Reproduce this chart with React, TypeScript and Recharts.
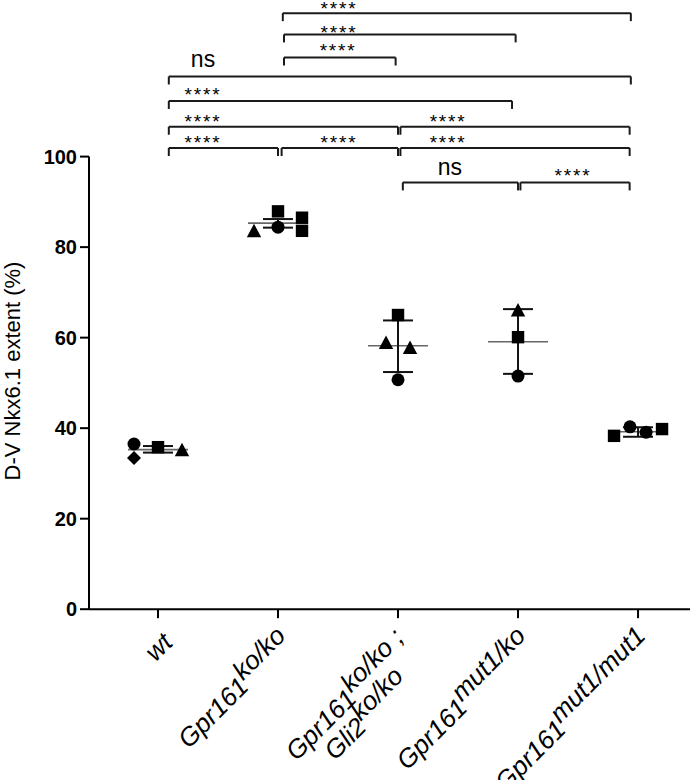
import React from 'react';
import { ComposedChart, XAxis, YAxis, Scatter, ReferenceLine, ReferenceDot } from 'recharts';

const FONT = "'Liberation Sans', Arial, Helvetica, sans-serif";

// categories (x positions 0..4)
const categories = [0, 1, 2, 3, 4];
const xTickLines: string[][][] = [
  [['wt', '']],
  [['Gpr161', 'ko/ko']],
  [['Gpr161', 'ko/ko ;'], ['Gli2', 'ko/ko']],
  [['Gpr161', 'mut1/ko']],
  [['Gpr161', 'mut1/mut1']],
];
const yTicks = [0, 20, 40, 60, 80, 100];

// group summary (mean and error bar ends)
const groupMeans = [35.25, 85.3, 58.2, 59.1, 39.2];
const errUpper = [36.05, 86.2, 63.8, 66.3, 40.2];
const errLower = [34.6, 84.3, 52.4, 52.0, 38.1];

// individual animals: group, horizontal jitter, value
const circlePts = [
  { g: 0, dx: -0.2, v: 36.5 },
  { g: 1, dx: 0, v: 84.4 },
  { g: 2, dx: 0, v: 50.7 },
  { g: 3, dx: 0, v: 51.5 },
  { g: 4, dx: -0.067, v: 40.3 },
  { g: 4, dx: 0.067, v: 39.1 },
];
const squarePts = [
  { g: 0, dx: 0, v: 35.8 },
  { g: 1, dx: 0, v: 87.9 },
  { g: 1, dx: 0.2, v: 86.5 },
  { g: 1, dx: 0.2, v: 83.6 },
  { g: 2, dx: 0, v: 65.0 },
  { g: 3, dx: 0, v: 60.1 },
  { g: 4, dx: -0.2, v: 38.3 },
  { g: 4, dx: 0.2, v: 39.8 },
];
const trianglePts = [
  { g: 0, dx: 0.2, v: 35.1 },
  { g: 1, dx: -0.2, v: 83.5 },
  { g: 2, dx: -0.1, v: 58.8 },
  { g: 2, dx: 0.1, v: 57.7 },
  { g: 3, dx: 0, v: 66.0 },
];
const diamondPts = [{ g: 0, dx: -0.2, v: 33.4 }];

// significance brackets
const brackets = [
  { x1: 1.04, x2: 3.94, y: 131.7 },
  { x1: 1.05, x2: 2.98, y: 127.0 },
  { x1: 1.05, x2: 1.98, y: 121.9 },
  { x1: 0.09, x2: 3.94, y: 117.7 },
  { x1: 0.09, x2: 2.95, y: 112.3 },
  { x1: 0.09, x2: 2.0, y: 106.6 },
  { x1: 2.02, x2: 3.93, y: 106.6 },
  { x1: 0.09, x2: 1.0, y: 101.9 },
  { x1: 1.03, x2: 2.0, y: 101.9 },
  { x1: 2.02, x2: 3.93, y: 101.9 },
  { x1: 2.04, x2: 3.0, y: 94.3 },
  { x1: 3.02, x2: 3.93, y: 94.3 },
];
const sigLabels = [
  { x: 1.508, y: 133.7, t: '****' },
  { x: 1.508, y: 128.3, t: '****' },
  { x: 1.5, y: 124.3, t: '****' },
  { x: 0.375, y: 121.1, t: 'ns' },
  { x: 0.375, y: 114.5, t: '****' },
  { x: 0.375, y: 108.6, t: '****' },
  { x: 2.417, y: 108.6, t: '****' },
  { x: 0.375, y: 103.9, t: '****' },
  { x: 1.508, y: 103.9, t: '****' },
  { x: 2.417, y: 103.9, t: '****' },
  { x: 2.433, y: 97.3, t: 'ns' },
  { x: 3.458, y: 96.7, t: '****' },
];

const X_DOMAIN: [number, number] = [-0.575, 4.433];
const Y_DOMAIN: [number, number] = [0, 134.6];
const BRACKET_DROP = 1.77;

const toXY = (arr: { g: number; dx: number; v: number }[]) => arr.map((p) => ({ x: p.g + p.dx, y: p.v }));

const CircleShape = (p: any) => <circle cx={p.cx} cy={p.cy} r={6.5} fill="#000" />;
const SquareShape = (p: any) => <rect x={p.cx - 6.2} y={p.cy - 6.2} width={12.4} height={12.4} fill="#000" />;
const TriangleShape = (p: any) => (
  <path d={`M${p.cx},${p.cy - 7.5} L${p.cx + 7.2},${p.cy + 6} L${p.cx - 7.2},${p.cy + 6} Z`} fill="#000" />
);
const DiamondShape = (p: any) => (
  <path d={`M${p.cx},${p.cy - 7} L${p.cx + 7},${p.cy} L${p.cx},${p.cy + 7} L${p.cx - 7},${p.cy} Z`} fill="#000" />
);

const XFS = 26;
const XTick = (props: any) => {
  const { x, y, payload } = props;
  const lines = xTickLines[payload.value] || [];
  const multi = lines.length > 1;
  const approxW = XFS * 6.5;
  return (
    <g transform={`translate(${x + 16},${y + 25}) rotate(-45)`}>
      {lines.map((ln, i) => (
        <text
          key={i}
          x={multi ? -approxW / 2 : 0}
          y={i * 27}
          textAnchor={multi ? 'middle' : 'end'}
          fontStyle="italic"
          fontSize={XFS}
          fontFamily={FONT}
          fill="#000"
        >
          {ln[0]}
          {ln[1] ? <tspan dy="-0.38em">{ln[1]}</tspan> : null}
        </text>
      ))}
    </g>
  );
};

const SigText = (t: string) => (p: any) =>
  t === 'ns' ? (
    <text x={p.cx} y={p.cy + 6} textAnchor="middle" fontSize={23} fontFamily={FONT} fill="#000">
      {t}
    </text>
  ) : (
    <text x={p.cx} y={p.cy + 10.5} textAnchor="middle" fontSize={19} letterSpacing={1.8} fontFamily={FONT} fill="#000">
      {t}
    </text>
  );

const YLabel = (props: any) => {
  const vb = props.viewBox || { x: 0, y: 0, height: 609 };
  return (
    <text
      transform={`translate(${vb.x + 20},371) rotate(-90)`}
      textAnchor="middle"
      fontSize={22}
      fontFamily={FONT}
      fill="#000"
    >
      D-V Nkx6.1 extent (%)
    </text>
  );
};

export default function App() {
  return (
    <div style={{ position: 'absolute', left: 0, top: 0, background: '#fff' }}>
      <ComposedChart
        width={693}
        height={780}
        margin={{ top: 0, right: 3, bottom: 0, left: 0 }}
        style={{ fontFamily: FONT }}
      >
        <XAxis
          dataKey="x"
          type="number"
          domain={X_DOMAIN}
          ticks={categories}
          allowDataOverflow
          height={170.8}
          tickSize={9}
          tickMargin={1}
          axisLine={{ stroke: '#000', strokeWidth: 2 }}
          tickLine={{ stroke: '#000', strokeWidth: 2 }}
          tick={<XTick />}
          interval={0}
        />
        <YAxis
          dataKey="y"
          type="number"
          domain={Y_DOMAIN}
          ticks={yTicks}
          allowDataOverflow
          width={89}
          tickSize={9}
          tickMargin={3}
          axisLine={false}
          tickLine={{ stroke: '#000', strokeWidth: 2 }}
          tick={{ fontSize: 20, fontWeight: 'bold', fill: '#000', fontFamily: FONT }}
          label={<YLabel />}
        />
        <ReferenceLine
          segment={[
            { x: X_DOMAIN[0], y: 0 },
            { x: X_DOMAIN[0], y: 100 },
          ]}
          stroke="#000"
          strokeWidth={2}
          ifOverflow="visible"
        />
        {brackets.map((b, i) => (
          <ReferenceLine
            key={`bh${i}`}
            segment={[
              { x: b.x1, y: b.y },
              { x: b.x2, y: b.y },
            ]}
            stroke="#1a1a1a"
            strokeWidth={2}
            ifOverflow="visible"
          />
        ))}
        {brackets.map((b, i) => (
          <ReferenceLine
            key={`bl${i}`}
            segment={[
              { x: b.x1, y: b.y },
              { x: b.x1, y: b.y - BRACKET_DROP },
            ]}
            stroke="#1a1a1a"
            strokeWidth={2}
            ifOverflow="visible"
          />
        ))}
        {brackets.map((b, i) => (
          <ReferenceLine
            key={`br${i}`}
            segment={[
              { x: b.x2, y: b.y },
              { x: b.x2, y: b.y - BRACKET_DROP },
            ]}
            stroke="#1a1a1a"
            strokeWidth={2}
            ifOverflow="visible"
          />
        ))}
        {sigLabels.map((s, i) => (
          <ReferenceDot key={`sl${i}`} x={s.x} y={s.y} r={0} ifOverflow="visible" shape={SigText(s.t)} />
        ))}
        {categories.map((g) => (
          <ReferenceLine
            key={`mean${g}`}
            segment={[
              { x: g - 0.25, y: groupMeans[g] },
              { x: g + 0.25, y: groupMeans[g] },
            ]}
            stroke="#666"
            strokeWidth={1.6}
            ifOverflow="visible"
          />
        ))}
        {categories.map((g) => (
          <ReferenceLine
            key={`ev${g}`}
            segment={[
              { x: g, y: errLower[g] },
              { x: g, y: errUpper[g] },
            ]}
            stroke="#111"
            strokeWidth={2}
            ifOverflow="visible"
          />
        ))}
        {categories.map((g) => (
          <ReferenceLine
            key={`eu${g}`}
            segment={[
              { x: g - 0.125, y: errUpper[g] },
              { x: g + 0.125, y: errUpper[g] },
            ]}
            stroke="#111"
            strokeWidth={2}
            ifOverflow="visible"
          />
        ))}
        {categories.map((g) => (
          <ReferenceLine
            key={`el${g}`}
            segment={[
              { x: g - 0.125, y: errLower[g] },
              { x: g + 0.125, y: errLower[g] },
            ]}
            stroke="#111"
            strokeWidth={2}
            ifOverflow="visible"
          />
        ))}
        <Scatter data={toXY(circlePts)} shape={CircleShape} isAnimationActive={false} />
        <Scatter data={toXY(squarePts)} shape={SquareShape} isAnimationActive={false} />
        <Scatter data={toXY(trianglePts)} shape={TriangleShape} isAnimationActive={false} />
        <Scatter data={toXY(diamondPts)} shape={DiamondShape} isAnimationActive={false} />
      </ComposedChart>
    </div>
  );
}
